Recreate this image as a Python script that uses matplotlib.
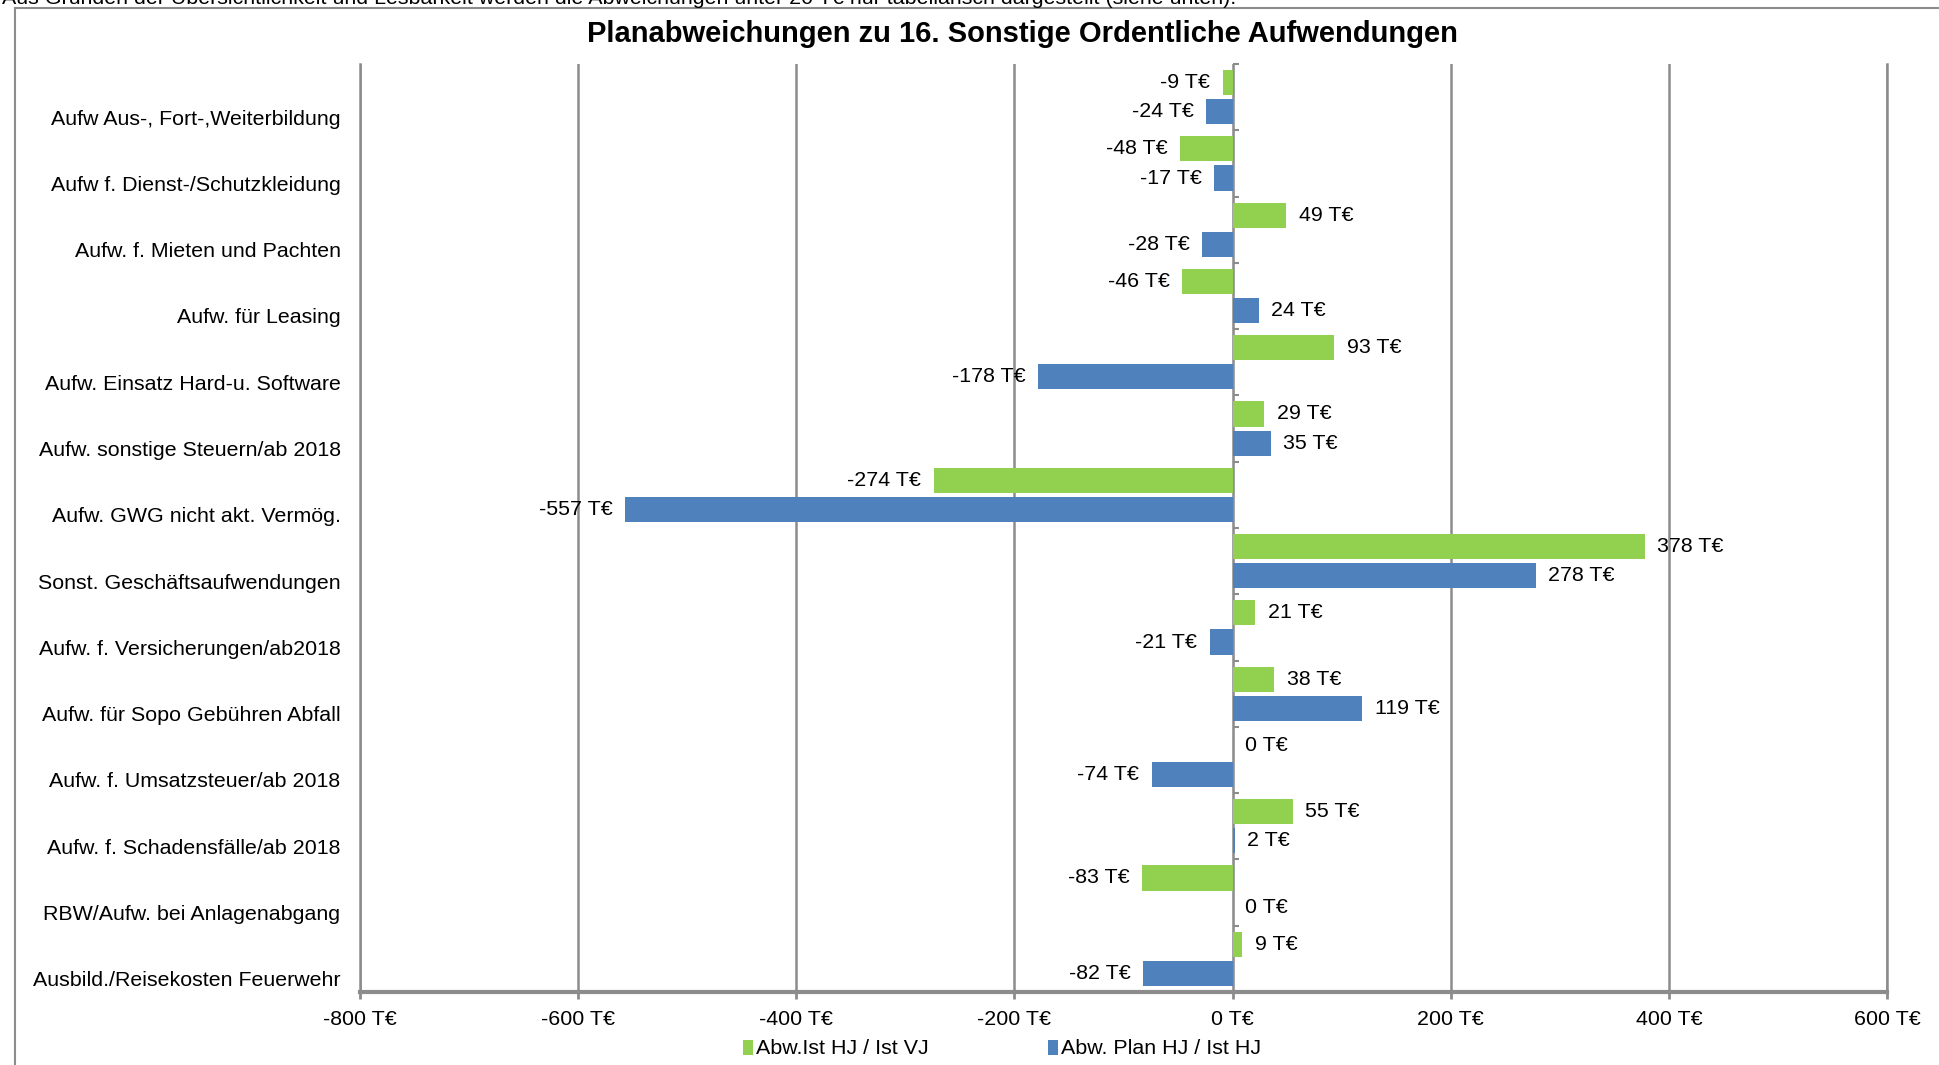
import numpy as np
import matplotlib
matplotlib.use("Agg")
from matplotlib import pyplot as plt
from matplotlib.lines import Line2D

plt.rcParams["font.family"] = ["Liberation Sans", "DejaVu Sans"]

categories = [
    "Aufw Aus-, Fort-,Weiterbildung",
    "Aufw f. Dienst-/Schutzkleidung",
    "Aufw. f. Mieten und Pachten",
    "Aufw. für Leasing",
    "Aufw. Einsatz Hard-u. Software",
    "Aufw. sonstige Steuern/ab 2018",
    "Aufw. GWG nicht akt. Vermög.",
    "Sonst. Geschäftsaufwendungen",
    "Aufw. f. Versicherungen/ab2018",
    "Aufw. für Sopo Gebühren Abfall",
    "Aufw. f. Umsatzsteuer/ab 2018",
    "Aufw. f. Schadensfälle/ab 2018",
    "RBW/Aufw. bei Anlagenabgang",
    "Ausbild./Reisekosten Feuerwehr",
]
ist_vj = [-9, -48, 49, -46, 93, 29, -274, 378, 21, 38, 0, 55, -83, 9]
plan_hj = [-24, -17, -28, 24, -178, 35, -557, 278, -21, 119, -74, 2, 0, -82]
series_names = ["Abw.Ist HJ / Ist VJ", "Abw. Plan HJ / Ist HJ"]
x_ticks = [-800, -600, -400, -200, 0, 200, 400, 600]

title = "Planabweichungen zu 16. Sonstige Ordentliche Aufwendungen"
note = ("Aus Gründen der Übersichtlichkeit und Lesbarkeit werden die Abweichungen "
        "unter 20 T€ nur tabellarisch dargestellt (siehe unten).")

GREEN = "#92D050"
BLUE = "#4F81BD"
GRAY = "#8C8C8C"
FS = 15.4

W, H = 1940, 1065
fig = plt.figure(figsize=(W / 100, H / 100), dpi=100)
ax = fig.add_axes([360 / W, 1 - 992 / H, (1887 - 360) / W, (992 - 64) / H])

pos = np.arange(len(categories))
bh = 0.38
off = 0.22
b1 = ax.barh(pos - off, ist_vj, height=bh, color=GREEN, label=series_names[0], zorder=3)
b2 = ax.barh(pos + off, plan_hj, height=bh, color=BLUE, label=series_names[1], zorder=3)

for cont, vals in ((b1, ist_vj), (b2, plan_hj)):
    ax.bar_label(cont, labels=[f"{v} T€" for v in vals], padding=9, fontsize=FS)

ax.set_xlim(x_ticks[0], x_ticks[-1])
ax.set_ylim(len(categories) - 0.5, -0.5)

# x axis
ax.set_xticks(x_ticks)
ax.set_xticklabels([f"{v} T€" for v in x_ticks], fontsize=FS)
ax.tick_params(axis="x", length=5, width=2, color=GRAY, pad=8)
ax.xaxis.grid(True, color=GRAY, linewidth=1.8, zorder=0)

# category labels sit a bit below the category centre, as in the original
ax.set_yticks(pos + 0.3)
ax.set_yticklabels(categories, fontsize=FS)
ax.tick_params(axis="y", length=0, pad=14)

ax.spines["top"].set_visible(False)
for side in ("left", "right"):
    ax.spines[side].set_color(GRAY)
    ax.spines[side].set_linewidth(1.8)
ax.spines["bottom"].set_color(GRAY)
ax.spines["bottom"].set_linewidth(3)

# value axis crossing at 0 with ticks at category boundaries
zero_frac = (0 - x_ticks[0]) / (x_ticks[-1] - x_ticks[0])
sec = ax.secondary_yaxis(zero_frac)
sec.set_yticks(np.arange(len(categories) + 1) - 0.5)
sec.set_yticklabels([])
sec.tick_params(length=4, width=1.5, color=GRAY)
sec.spines["left"].set_color(GRAY)
sec.spines["left"].set_linewidth(1.8)

fig.legend(
    handles=[b1, b2],
    loc="center",
    bbox_to_anchor=(1002 / W, 1 - 1049 / H),
    ncol=2,
    frameon=False,
    fontsize=FS,
    handlelength=0.45,
    handleheight=0.7,
    handletextpad=0.15,
    columnspacing=5.6,
)

fig.text(1022 / W, 1 - 34 / H, title, ha="center", va="center",
         fontsize=21, fontweight="bold")
fig.text(0.001, 1 - 4 / H, note, ha="left", va="baseline", fontsize=FS)

# outer chart frame (left and top edges visible)
fig.add_artist(Line2D([15 / W, 15 / W], [0, 1 - 8 / H], transform=fig.transFigure,
                      color=GRAY, linewidth=1.5))
fig.add_artist(Line2D([15 / W, 1], [1 - 8 / H, 1 - 8 / H], transform=fig.transFigure,
                      color=GRAY, linewidth=1.5))

fig.savefig("out.png", dpi=100)
